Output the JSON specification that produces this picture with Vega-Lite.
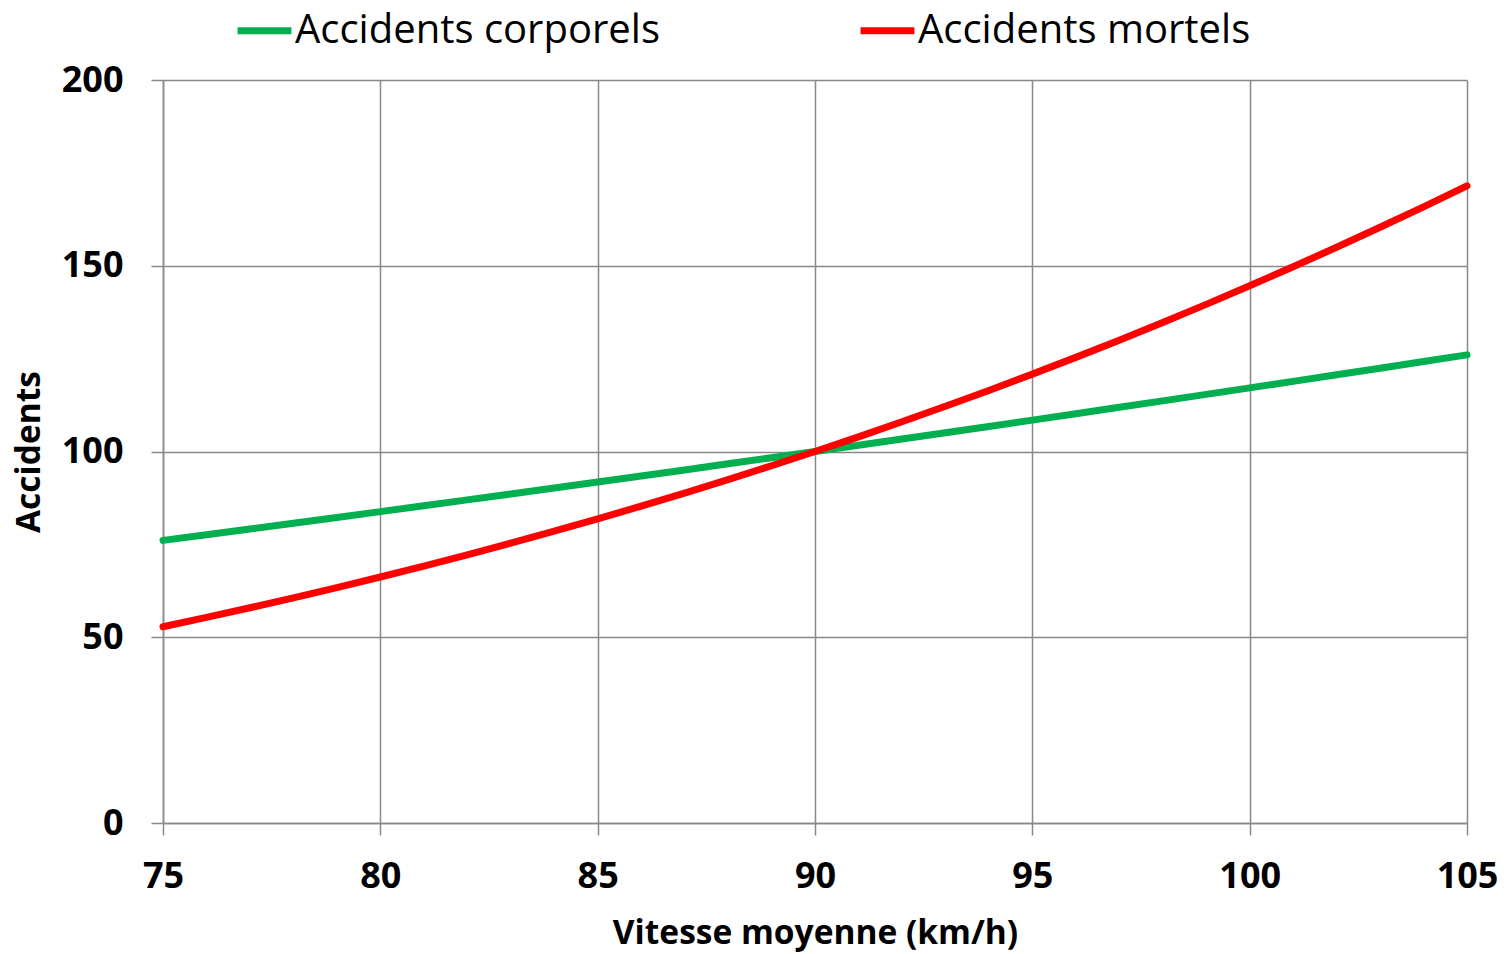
{
  "$schema": "https://vega.github.io/schema/vega-lite/v6.json",
  "width": 1304,
  "height": 743,
  "autosize": "none",
  "padding": {"left": 163, "top": 80, "right": 40, "bottom": 131},
  "background": "white",
  "config": {
    "font": "Open Sans",
    "view": {"stroke": null},
    "axis": {
      "gridColor": "#898989",
      "gridWidth": 1.5,
      "domainColor": "#898989",
      "domainWidth": 1.5,
      "tickColor": "#898989",
      "tickWidth": 1.5,
      "tickSize": 12,
      "labelFont": "Open Sans",
      "labelFontWeight": "bold",
      "labelFontSize": 36,
      "labelColor": "#000000",
      "titleFont": "Open Sans",
      "titleFontWeight": "bold",
      "titleFontSize": 33.5,
      "titleColor": "#000000"
    }
  },
  "data": {
    "values": [
      {"v": 75, "serie": "Accidents corporels", "val": 76.07}, {"v": 75, "serie": "Accidents mortels", "val": 52.83},
      {"v": 76, "serie": "Accidents corporels", "val": 77.60}, {"v": 76, "serie": "Accidents mortels", "val": 55.34},
      {"v": 77, "serie": "Accidents corporels", "val": 79.14}, {"v": 77, "serie": "Accidents mortels", "val": 57.93},
      {"v": 78, "serie": "Accidents corporels", "val": 80.68}, {"v": 78, "serie": "Accidents mortels", "val": 60.60},
      {"v": 79, "serie": "Accidents corporels", "val": 82.24}, {"v": 79, "serie": "Accidents mortels", "val": 63.37},
      {"v": 80, "serie": "Accidents corporels", "val": 83.81}, {"v": 80, "serie": "Accidents mortels", "val": 66.22},
      {"v": 81, "serie": "Accidents corporels", "val": 85.38}, {"v": 81, "serie": "Accidents mortels", "val": 69.16},
      {"v": 82, "serie": "Accidents corporels", "val": 86.97}, {"v": 82, "serie": "Accidents mortels", "val": 72.19},
      {"v": 83, "serie": "Accidents corporels", "val": 88.56}, {"v": 83, "serie": "Accidents mortels", "val": 75.32},
      {"v": 84, "serie": "Accidents corporels", "val": 90.17}, {"v": 84, "serie": "Accidents mortels", "val": 78.55},
      {"v": 85, "serie": "Accidents corporels", "val": 91.78}, {"v": 85, "serie": "Accidents mortels", "val": 81.87},
      {"v": 86, "serie": "Accidents corporels", "val": 93.41}, {"v": 86, "serie": "Accidents mortels", "val": 85.29},
      {"v": 87, "serie": "Accidents corporels", "val": 95.04}, {"v": 87, "serie": "Accidents mortels", "val": 88.81},
      {"v": 88, "serie": "Accidents corporels", "val": 96.69}, {"v": 88, "serie": "Accidents mortels", "val": 92.44},
      {"v": 89, "serie": "Accidents corporels", "val": 98.34}, {"v": 89, "serie": "Accidents mortels", "val": 96.17},
      {"v": 90, "serie": "Accidents corporels", "val": 100.00}, {"v": 90, "serie": "Accidents mortels", "val": 100.00},
      {"v": 91, "serie": "Accidents corporels", "val": 101.67}, {"v": 91, "serie": "Accidents mortels", "val": 103.94},
      {"v": 92, "serie": "Accidents corporels", "val": 103.35}, {"v": 92, "serie": "Accidents mortels", "val": 108.00},
      {"v": 93, "serie": "Accidents corporels", "val": 105.04}, {"v": 93, "serie": "Accidents mortels", "val": 112.16},
      {"v": 94, "serie": "Accidents corporels", "val": 106.74}, {"v": 94, "serie": "Accidents mortels", "val": 116.44},
      {"v": 95, "serie": "Accidents corporels", "val": 108.45}, {"v": 95, "serie": "Accidents mortels", "val": 120.83},
      {"v": 96, "serie": "Accidents corporels", "val": 110.16}, {"v": 96, "serie": "Accidents mortels", "val": 125.34},
      {"v": 97, "serie": "Accidents corporels", "val": 111.89}, {"v": 97, "serie": "Accidents mortels", "val": 129.97},
      {"v": 98, "serie": "Accidents corporels", "val": 113.63}, {"v": 98, "serie": "Accidents mortels", "val": 134.72},
      {"v": 99, "serie": "Accidents corporels", "val": 115.37}, {"v": 99, "serie": "Accidents mortels", "val": 139.60},
      {"v": 100, "serie": "Accidents corporels", "val": 117.12}, {"v": 100, "serie": "Accidents mortels", "val": 144.60},
      {"v": 101, "serie": "Accidents corporels", "val": 118.88}, {"v": 101, "serie": "Accidents mortels", "val": 149.72},
      {"v": 102, "serie": "Accidents corporels", "val": 120.65}, {"v": 102, "serie": "Accidents mortels", "val": 154.97},
      {"v": 103, "serie": "Accidents corporels", "val": 122.43}, {"v": 103, "serie": "Accidents mortels", "val": 160.36},
      {"v": 104, "serie": "Accidents corporels", "val": 124.22}, {"v": 104, "serie": "Accidents mortels", "val": 165.87},
      {"v": 105, "serie": "Accidents corporels", "val": 126.01}, {"v": 105, "serie": "Accidents mortels", "val": 171.52}
    ]
  },
  "mark": {"type": "line", "strokeWidth": 7, "strokeCap": "round", "strokeJoin": "round"},
  "encoding": {
    "x": {
      "field": "v",
      "type": "quantitative",
      "scale": {"domain": [75, 105], "nice": false, "zero": false},
      "axis": {
        "values": [75, 80, 85, 90, 95, 100, 105],
        "title": "Vitesse moyenne (km/h)",
        "labelPadding": 24,
        "titlePadding": 23,
        "labelFlush": false
      }
    },
    "y": {
      "field": "val",
      "type": "quantitative",
      "scale": {"domain": [0, 200], "nice": false},
      "axis": {
        "values": [0, 50, 100, 150, 200],
        "title": "Accidents",
        "labelPadding": 28,
        "titlePadding": 15
      }
    },
    "color": {
      "field": "serie",
      "type": "nominal",
      "scale": {"domain": ["Accidents corporels", "Accidents mortels"], "range": ["#00B050", "#FF0000"]},
      "legend": {
        "title": null,
        "orient": "none",
        "legendX": 71,
        "legendY": -80,
        "direction": "horizontal",
        "columns": 2,
        "columnPadding": 186,
        "symbolType": "stroke",
        "symbolSize": 2900,
        "symbolStrokeWidth": 7,
        "labelFontSize": 40,
        "labelFont": "Open Sans",
        "labelColor": "#000000",
        "labelOffset": 0,
        "labelLimit": 700
      }
    }
  }
}
